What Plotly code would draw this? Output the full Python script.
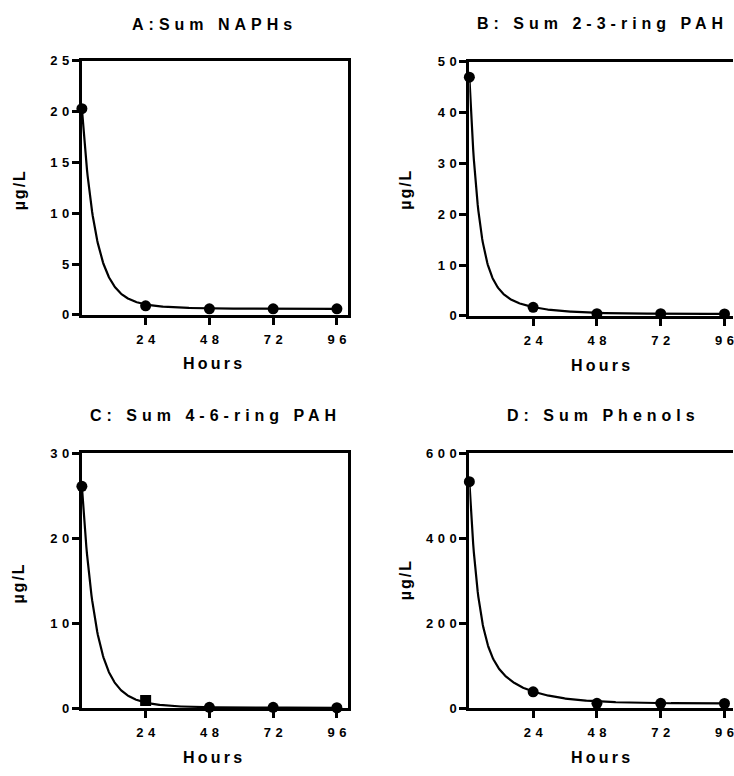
import numpy as np
import plotly.graph_objects as go

# ---------------- data ----------------
hours = [0, 24, 48, 72, 96]
naphs = [20.3, 0.9, 0.6, 0.6, 0.6]
pah_2_3 = [47.0, 1.7, 0.45, 0.45, 0.4]
pah_4_6 = [26.1, 0.9, 0.1, 0.1, 0.05]
phenols = [533, 38.5, 11.5, 11.5, 11.0]
pah_4_6_symbols = ["circle", "square", "circle", "circle", "circle"]

titles = ["A:Sum NAPHs", "B: Sum 2-3-ring PAH", "C: Sum 4-6-ring PAH", "D: Sum Phenols"]
x_title = "Hours"
y_title = "µg/L"

x_tickvals = [24, 48, 72, 96]
y_tickvals = [
    [0, 5, 10, 15, 20, 25],
    [0, 10, 20, 30, 40, 50],
    [0, 10, 20, 30],
    [0, 200, 400, 600],
]

# decay-fit parameters
fit_plateau = [0.6, 0.4, 0.05, 11.0]
fit_slow_amp = [2.0, 8.45, 4.0, 157.0]
fit_k_fast = [0.2035, 0.30, 0.21, 0.31]
fit_k_slow = [0.08, 0.078, 0.09, 0.072]

series = [naphs, pah_2_3, pah_4_6, phenols]
symbols = [["circle"] * 5, ["circle"] * 5, pah_4_6_symbols, ["circle"] * 5]

# ---------------- layout geometry ----------------
W, H = 734, 776
x_dom = [[82 / W, 348 / W], [470 / W, 1.0], [82 / W, 348 / W], [470 / W, 1.0]]
y_dom = [
    [1 - 314 / H, 1 - 55 / H],
    [1 - 315 / H, 1 - 56 / H],
    [1 - 715 / H, 1 - 455 / H],
    [1 - 715 / H, 1 - 455 / H],
]
x_range = [[0, 100], [0, 99.2], [0, 100], [0, 99.2]]
title_pos = [(212.5, 18), (600.5, 17), (213, 417), (601.5, 417)]
xlab_pos = [(213, 364), (601, 366), (213, 765), (601, 765)]
ylab_pos = [(19, 187), (406, 187), (19, 588), (406, 585)]

FONT = "Liberation Sans, Arial, sans-serif"


def spaced(s, px):
    if len(s) < 2:
        return s
    return f'<span style="letter-spacing:{px}px">{s[:-1]}</span>{s[-1]}'


fig = go.Figure()
ann = []
for i in range(4):
    sfx = "" if i == 0 else str(i + 1)
    xa, ya = "x" + sfx, "y" + sfx
    y0 = series[i][0]
    amp_fast = y0 - fit_plateau[i] - fit_slow_amp[i]
    t = np.linspace(0, 96, 400)
    curve = (fit_plateau[i] + amp_fast * np.exp(-fit_k_fast[i] * t)
             + fit_slow_amp[i] * np.exp(-fit_k_slow[i] * t))
    fig.add_trace(go.Scatter(x=t, y=curve, mode="lines", xaxis=xa, yaxis=ya,
                             line=dict(color="black", width=2.2),
                             showlegend=False, hoverinfo="skip", cliponaxis=False))
    fig.add_trace(go.Scatter(x=hours, y=series[i], mode="markers", xaxis=xa, yaxis=ya,
                             marker=dict(color="black", size=11, symbol=symbols[i]),
                             showlegend=False, cliponaxis=False))

    axcommon = dict(showgrid=False, zeroline=False, showline=True, linecolor="black",
                    linewidth=3, ticks="outside", ticklen=7, tickwidth=2.5,
                    tickcolor="black", layer="below traces",
                    ticklabeloverflow="allow",
                    tickfont=dict(family=FONT, size=13, color="black", weight="bold"))
    fig.layout["xaxis" + sfx] = dict(
        axcommon, domain=x_dom[i], range=x_range[i], anchor=ya,
        mirror=True, ticklabelstandoff=3,
        tickmode="array", tickvals=x_tickvals,
        ticktext=[spaced(str(v), 4.5) for v in x_tickvals])
    fig.layout["yaxis" + sfx] = dict(
        axcommon, domain=y_dom[i], range=[0, y_tickvals[i][-1]], anchor=xa,
        mirror=(i in (0, 2)),
        tickmode="array", tickvals=y_tickvals[i],
        ticktext=[spaced(str(v), 4.5) for v in y_tickvals[i]])

    ann.append(dict(text=spaced(titles[i], 5), x=title_pos[i][0] / W, y=1 - title_pos[i][1] / H,
                    xref="paper", yref="paper", showarrow=False, xanchor="center", yanchor="middle",
                    font=dict(family=FONT, size=16, color="black", weight="bold")))
    ann.append(dict(text=spaced(x_title, 3.2), x=xlab_pos[i][0] / W, y=1 - xlab_pos[i][1] / H,
                    xref="paper", yref="paper", showarrow=False, xanchor="center", yanchor="middle",
                    font=dict(family=FONT, size=16, color="black", weight="bold")))
    ann.append(dict(text=spaced(y_title, 2), x=ylab_pos[i][0] / W, y=1 - ylab_pos[i][1] / H,
                    xref="paper", yref="paper", showarrow=False, xanchor="center", yanchor="middle",
                    textangle=-90,
                    font=dict(family=FONT, size=16, color="black", weight="bold")))

fig.update_layout(width=W, height=H, margin=dict(l=0, r=0, t=0, b=0),
                  paper_bgcolor="white", plot_bgcolor="white",
                  annotations=ann, showlegend=False)

fig.write_html("out.html")
